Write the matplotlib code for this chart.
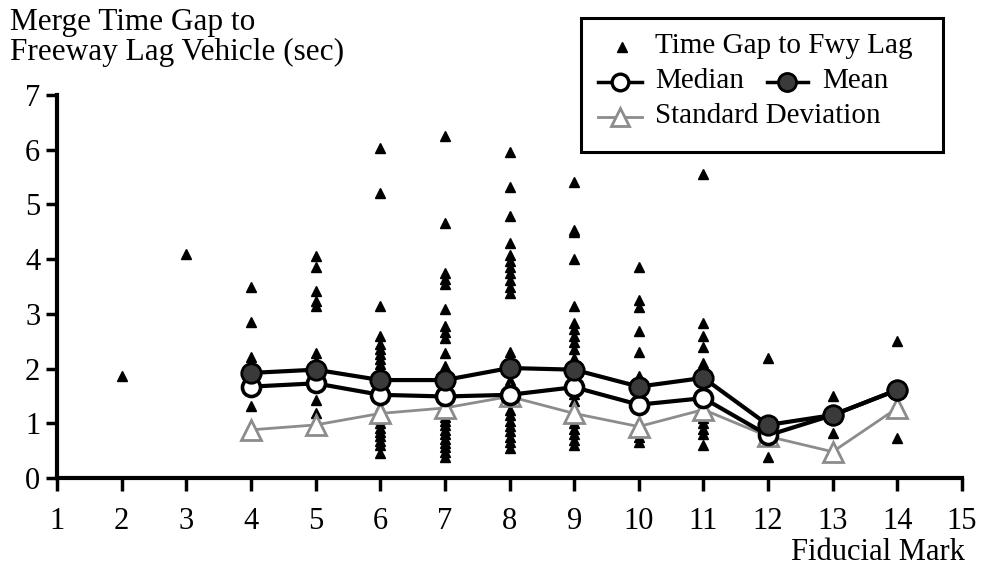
import matplotlib
matplotlib.use("Agg")
import matplotlib.pyplot as plt
from matplotlib.lines import Line2D
from matplotlib.patches import Rectangle

plt.rcParams['font.family'] = ['Liberation Serif', 'DejaVu Serif']

# Individual merge time gaps (sec) observed at each fiducial mark
gap_by_mark = {
    2: [1.87],
    3: [4.10],
    4: [3.50, 2.86, 2.22, 2.12, 2.04, 1.95, 1.85, 1.31],
    5: [4.05, 3.85, 3.41, 3.23, 3.14, 2.28, 2.13, 2.04, 1.95, 1.43, 1.18],
    6: [6.04, 5.21, 3.14, 2.59, 2.45, 2.36, 2.27, 2.18, 2.09, 2.00, 1.90, 1.80,
        1.65, 1.50, 1.30, 1.18, 1.08, 1.00, 0.92, 0.84, 0.76, 0.68, 0.60, 0.45],
    7: [6.25, 4.66, 3.75, 3.63, 3.55, 3.08, 2.77, 2.66, 2.56, 2.28, 2.04, 1.90,
        1.80, 1.65, 1.50, 1.40, 1.30, 1.20, 1.12, 1.04, 0.96, 0.88, 0.80, 0.72,
        0.64, 0.56, 0.48, 0.39],
    8: [5.95, 5.32, 4.79, 4.30, 4.08, 3.96, 3.85, 3.74, 3.62, 3.50, 3.39, 2.31,
        2.15, 2.00, 1.79, 1.60, 1.50, 1.25, 1.15, 1.05, 0.95, 0.85, 0.75, 0.65,
        0.55],
    9: [5.41, 4.54, 4.50, 4.01, 3.14, 2.84, 2.72, 2.60, 2.48, 2.36, 2.20, 2.08,
        1.90, 1.75, 1.53, 1.40, 1.25, 1.10, 1.00, 0.90, 0.80, 0.70, 0.60],
    10: [3.85, 3.26, 3.12, 2.68, 2.31, 1.86, 1.75, 0.85, 0.75, 0.65],
    11: [5.55, 2.83, 2.59, 2.40, 2.10, 1.95, 1.30, 1.10, 1.00, 0.90, 0.80, 0.60],
    12: [2.19, 0.80, 0.39],
    13: [1.50, 0.82],
    14: [2.50, 0.73],
}

# Summary statistics per fiducial mark
stat_marks = [4, 5, 6, 7, 8, 9, 10, 11, 12, 13, 14]
mean_gap = [1.92, 1.98, 1.79, 1.79, 2.01, 1.98, 1.67, 1.83, 0.97, 1.15, 1.61]
median_gap = [1.67, 1.73, 1.52, 1.49, 1.52, 1.66, 1.34, 1.46, 0.78, 1.15, 1.61]
sd_gap = [0.88, 0.97, 1.18, 1.28, 1.49, 1.18, 0.94, 1.25, 0.76, 0.48, 1.28]

x_ticks = list(range(1, 16))
y_ticks = list(range(0, 8))

W, H = 982, 569
fig = plt.figure(figsize=(W / 100, H / 100), dpi=100)
ax = fig.add_axes([57 / W, 1 - 478 / H, (962 - 57) / W, (478 - 95) / H])

sd_color = '#8c8c8c'

scatter_x = [m for m, vals in gap_by_mark.items() for _ in vals]
scatter_y = [v for vals in gap_by_mark.values() for v in vals]
ax.plot(scatter_x, scatter_y, linestyle='none', marker='^', ms=7,
        color='black', zorder=2, clip_on=False)

ax.plot(stat_marks, sd_gap, color=sd_color, lw=2.0, marker='^', ms=14,
        mfc='white', mec=sd_color, mew=2.0, zorder=3)
ax.plot(stat_marks, median_gap, color='black', lw=3.0, marker='o', ms=13,
        mfc='white', mec='black', mew=2.6, zorder=4)
ax.plot(stat_marks, mean_gap, color='black', lw=3.0, marker='o', ms=14,
        mfc='#3a3a3a', mec='black', mew=2.0, zorder=5)

ax.set_xlim(1, 15)
ax.set_ylim(0, 7)
ax.set_xticks(x_ticks)
ax.set_yticks(y_ticks)
for s in ('top', 'right'):
    ax.spines[s].set_visible(False)
for s in ('left', 'bottom'):
    ax.spines[s].set_linewidth(3)
ax.tick_params(axis='x', direction='out', length=9, width=2.5, pad=12,
               labelsize=22)
ax.tick_params(axis='y', direction='out', length=8, width=2.5, pad=4,
               labelsize=22)

fig.text(10 / W, 1 - 8 / H, 'Merge Time Gap to\nFreeway Lag Vehicle (sec)',
         ha='left', va='top', fontsize=22.5, linespacing=1.05)
fig.text(965 / W, 1 - 552 / H, 'Fiducial Mark', ha='right', va='center',
         fontsize=22)

# Legend panel drawn in pixel coordinates
lg = fig.add_axes([0, 0, 1, 1], facecolor='none')
lg.set_xlim(0, W)
lg.set_ylim(H, 0)
lg.axis('off')
lg.add_patch(Rectangle((581, 18), 362, 134, fill=True, facecolor='white',
                       edgecolor='black', lw=2.2))
fs = 21
lg.add_line(Line2D([622], [47], marker='^', ms=7, color='black',
                   linestyle='none'))
lg.text(655, 46, 'Time Gap to Fwy Lag', va='center', ha='left', fontsize=fs)
lg.add_line(Line2D([598, 642], [82, 82], color='black', lw=2.5))
lg.add_line(Line2D([620], [82], marker='o', ms=12, mfc='white', mec='black',
                   mew=2.4, linestyle='none'))
lg.text(655, 81, 'Median', va='center', ha='left', fontsize=fs)
lg.add_line(Line2D([767, 808], [82, 82], color='black', lw=2.5))
lg.add_line(Line2D([787], [82], marker='o', ms=13, mfc='#3a3a3a', mec='black',
                   mew=2.0, linestyle='none'))
lg.text(822, 81, 'Mean', va='center', ha='left', fontsize=fs)
lg.add_line(Line2D([598, 642], [117, 117], color=sd_color, lw=2.0))
lg.add_line(Line2D([620], [117], marker='^', ms=13, mfc='white', mec=sd_color,
                   mew=2.0, linestyle='none'))
lg.text(655, 116, 'Standard Deviation', va='center', ha='left', fontsize=fs)

fig.savefig('out.png', dpi=100)
